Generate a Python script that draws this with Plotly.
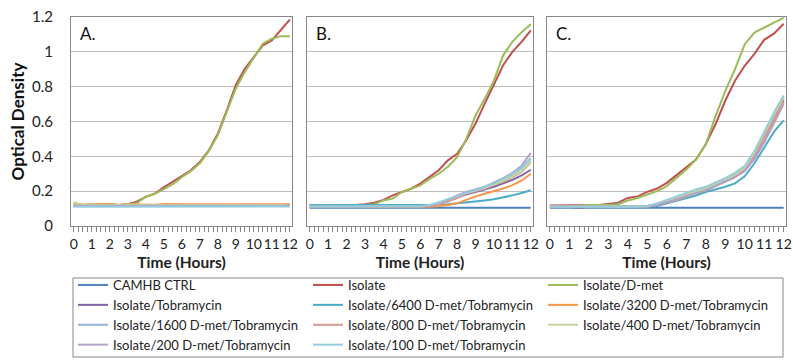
import plotly.graph_objects as go
from plotly.subplots import make_subplots

TIME = [0, 0.5, 1, 1.5, 2, 2.5, 3, 3.5, 4, 4.5, 5, 5.5, 6, 6.5, 7, 7.5, 8, 8.5, 9, 9.5, 10, 10.5, 11, 11.5, 12]

SERIES = ["CAMHB CTRL", "Isolate", "Isolate/D-met", "Isolate/Tobramycin",
          "Isolate/6400 D-met/Tobramycin", "Isolate/3200 D-met/Tobramycin",
          "Isolate/1600 D-met/Tobramycin", "Isolate/800 D-met/Tobramycin",
          "Isolate/400 D-met/Tobramycin", "Isolate/200 D-met/Tobramycin",
          "Isolate/100 D-met/Tobramycin"]
COLORS = ["#4F81BD", "#C0504D", "#9BBB59", "#8064A2", "#4BACC6", "#F79646",
          "#95B3D7", "#D99694", "#C3D69B", "#B3A2C7", "#93CDDD"]
PANEL_LABELS = ["A.", "B.", "C."]
Y_TICKS = [0, 0.2, 0.4, 0.6, 0.8, 1, 1.2]
X_TICKS = [0, 1, 2, 3, 4, 5, 6, 7, 8, 9, 10, 11, 12]

# Panel A
A_CTRL = [0.115, 0.115, 0.115, 0.115, 0.115, 0.115, 0.115, 0.115, 0.115, 0.115, 0.115, 0.115, 0.115, 0.115, 0.115, 0.115, 0.115, 0.115, 0.115, 0.115, 0.115, 0.115, 0.115, 0.115, 0.118]
A_ISO = [0.12, 0.12, 0.12, 0.12, 0.125, 0.12, 0.125, 0.14, 0.167, 0.186, 0.222, 0.253, 0.287, 0.32, 0.367, 0.434, 0.53, 0.664, 0.81, 0.903, 0.97, 1.037, 1.066, 1.123, 1.185]
A_DMET = [0.135, 0.12, 0.125, 0.125, 0.125, 0.12, 0.125, 0.13, 0.168, 0.185, 0.212, 0.24, 0.28, 0.315, 0.36, 0.43, 0.52, 0.655, 0.79, 0.884, 0.965, 1.047, 1.075, 1.09, 1.09]
A_TOB = [0.118, 0.118, 0.118, 0.118, 0.118, 0.118, 0.118, 0.118, 0.118, 0.118, 0.118, 0.118, 0.118, 0.118, 0.118, 0.118, 0.118, 0.118, 0.118, 0.118, 0.118, 0.118, 0.118, 0.118, 0.12]
A_6400 = [0.12, 0.12, 0.12, 0.12, 0.12, 0.12, 0.12, 0.12, 0.12, 0.12, 0.12, 0.12, 0.12, 0.12, 0.12, 0.12, 0.12, 0.12, 0.12, 0.12, 0.12, 0.12, 0.12, 0.12, 0.12]
A_3200 = [0.122, 0.122, 0.125, 0.125, 0.127, 0.12, 0.125, 0.125, 0.125, 0.122, 0.127, 0.125, 0.125, 0.125, 0.125, 0.125, 0.125, 0.125, 0.125, 0.125, 0.125, 0.125, 0.125, 0.125, 0.125]
A_1600 = [0.115, 0.115, 0.115, 0.115, 0.115, 0.115, 0.115, 0.115, 0.115, 0.115, 0.115, 0.115, 0.115, 0.115, 0.115, 0.115, 0.115, 0.115, 0.115, 0.115, 0.115, 0.115, 0.115, 0.115, 0.115]
A_800 = [0.118, 0.118, 0.118, 0.118, 0.118, 0.118, 0.118, 0.118, 0.118, 0.118, 0.118, 0.118, 0.118, 0.118, 0.118, 0.118, 0.118, 0.118, 0.118, 0.118, 0.118, 0.118, 0.118, 0.118, 0.118]
A_400 = [0.13, 0.12, 0.12, 0.12, 0.12, 0.12, 0.12, 0.12, 0.12, 0.12, 0.12, 0.12, 0.12, 0.12, 0.12, 0.12, 0.12, 0.12, 0.12, 0.12, 0.12, 0.12, 0.12, 0.12, 0.115]
A_200 = [0.116, 0.116, 0.116, 0.116, 0.116, 0.116, 0.116, 0.116, 0.116, 0.116, 0.116, 0.116, 0.116, 0.116, 0.116, 0.116, 0.116, 0.116, 0.116, 0.116, 0.116, 0.116, 0.116, 0.116, 0.116]
A_100 = [0.11, 0.11, 0.11, 0.11, 0.11, 0.11, 0.11, 0.11, 0.11, 0.11, 0.11, 0.11, 0.11, 0.11, 0.11, 0.11, 0.11, 0.11, 0.11, 0.11, 0.11, 0.11, 0.11, 0.11, 0.112]

# Panel B
B_CTRL = [0.105, 0.105, 0.105, 0.105, 0.105, 0.105, 0.105, 0.105, 0.105, 0.105, 0.105, 0.105, 0.105, 0.105, 0.105, 0.105, 0.105, 0.105, 0.105, 0.105, 0.105, 0.105, 0.105, 0.105, 0.105]
B_ISO = [0.12, 0.12, 0.12, 0.12, 0.12, 0.12, 0.125, 0.134, 0.15, 0.176, 0.195, 0.214, 0.243, 0.28, 0.32, 0.377, 0.415, 0.492, 0.588, 0.703, 0.81, 0.923, 1.0, 1.057, 1.123]
B_DMET = [0.12, 0.12, 0.12, 0.12, 0.12, 0.12, 0.12, 0.125, 0.147, 0.157, 0.195, 0.214, 0.233, 0.27, 0.3, 0.34, 0.395, 0.5, 0.635, 0.73, 0.836, 0.98, 1.057, 1.113, 1.158]
B_TOB = [0.11, 0.11, 0.11, 0.11, 0.11, 0.11, 0.11, 0.11, 0.11, 0.11, 0.11, 0.11, 0.11, 0.115, 0.125, 0.145, 0.165, 0.18, 0.195, 0.21, 0.225, 0.245, 0.265, 0.29, 0.323]
B_6400 = [0.12, 0.12, 0.12, 0.12, 0.12, 0.12, 0.12, 0.12, 0.12, 0.12, 0.12, 0.12, 0.12, 0.12, 0.122, 0.125, 0.13, 0.135, 0.138, 0.147, 0.153, 0.163, 0.176, 0.19, 0.205]
B_3200 = [0.11, 0.11, 0.11, 0.11, 0.11, 0.11, 0.11, 0.11, 0.11, 0.11, 0.11, 0.11, 0.11, 0.11, 0.115, 0.12, 0.13, 0.15, 0.17, 0.185, 0.2, 0.215, 0.235, 0.26, 0.3]
B_1600 = [0.11, 0.11, 0.11, 0.11, 0.11, 0.11, 0.11, 0.11, 0.11, 0.11, 0.11, 0.11, 0.112, 0.12, 0.135, 0.15, 0.17, 0.19, 0.205, 0.22, 0.24, 0.265, 0.295, 0.33, 0.39]
B_800 = [0.11, 0.11, 0.11, 0.11, 0.11, 0.11, 0.11, 0.11, 0.11, 0.11, 0.11, 0.11, 0.11, 0.115, 0.125, 0.14, 0.16, 0.185, 0.2, 0.215, 0.235, 0.255, 0.28, 0.31, 0.365]
B_400 = [0.11, 0.11, 0.11, 0.11, 0.11, 0.11, 0.11, 0.11, 0.11, 0.11, 0.11, 0.11, 0.112, 0.118, 0.13, 0.15, 0.17, 0.19, 0.205, 0.22, 0.24, 0.26, 0.285, 0.315, 0.37]
B_200 = [0.11, 0.11, 0.11, 0.11, 0.11, 0.11, 0.11, 0.11, 0.11, 0.11, 0.11, 0.11, 0.112, 0.118, 0.13, 0.15, 0.175, 0.195, 0.21, 0.225, 0.25, 0.275, 0.305, 0.345, 0.42]
B_100 = [0.112, 0.112, 0.112, 0.112, 0.112, 0.112, 0.112, 0.112, 0.112, 0.112, 0.112, 0.112, 0.115, 0.12, 0.135, 0.155, 0.17, 0.19, 0.205, 0.225, 0.245, 0.27, 0.3, 0.335, 0.385]

# Panel C
C_CTRL = [0.105, 0.105, 0.105, 0.105, 0.105, 0.105, 0.105, 0.105, 0.105, 0.105, 0.105, 0.105, 0.105, 0.105, 0.105, 0.105, 0.105, 0.105, 0.105, 0.105, 0.105, 0.105, 0.105, 0.105, 0.105]
C_ISO = [0.117, 0.117, 0.117, 0.117, 0.12, 0.12, 0.127, 0.134, 0.161, 0.17, 0.196, 0.215, 0.248, 0.292, 0.334, 0.382, 0.469, 0.584, 0.719, 0.834, 0.92, 0.988, 1.069, 1.104, 1.161]
C_DMET = [0.115, 0.115, 0.115, 0.115, 0.12, 0.12, 0.12, 0.125, 0.146, 0.161, 0.18, 0.2, 0.229, 0.277, 0.324, 0.382, 0.469, 0.63, 0.775, 0.9, 1.044, 1.11, 1.14, 1.168, 1.195]
C_TOB = [0.11, 0.11, 0.11, 0.105, 0.11, 0.11, 0.11, 0.11, 0.11, 0.11, 0.115, 0.125, 0.14, 0.155, 0.175, 0.19, 0.205, 0.23, 0.255, 0.28, 0.32, 0.39, 0.49, 0.6, 0.72]
C_6400 = [0.11, 0.11, 0.11, 0.11, 0.11, 0.11, 0.11, 0.11, 0.11, 0.11, 0.11, 0.115, 0.13, 0.145, 0.16, 0.175, 0.195, 0.21, 0.225, 0.245, 0.285, 0.36, 0.45, 0.54, 0.607]
C_3200 = [0.11, 0.11, 0.11, 0.11, 0.11, 0.11, 0.11, 0.11, 0.11, 0.11, 0.112, 0.12, 0.135, 0.15, 0.17, 0.19, 0.205, 0.235, 0.26, 0.29, 0.33, 0.41, 0.51, 0.62, 0.73]
C_1600 = [0.11, 0.11, 0.11, 0.11, 0.11, 0.11, 0.11, 0.11, 0.11, 0.11, 0.113, 0.125, 0.14, 0.16, 0.18, 0.195, 0.215, 0.24, 0.265, 0.295, 0.335, 0.42, 0.53, 0.64, 0.74]
C_800 = [0.11, 0.11, 0.11, 0.11, 0.11, 0.11, 0.11, 0.11, 0.11, 0.11, 0.112, 0.122, 0.138, 0.155, 0.175, 0.19, 0.21, 0.235, 0.26, 0.285, 0.325, 0.4, 0.5, 0.61, 0.71]
C_400 = [0.11, 0.11, 0.11, 0.11, 0.11, 0.11, 0.11, 0.11, 0.11, 0.11, 0.113, 0.125, 0.142, 0.16, 0.18, 0.2, 0.215, 0.24, 0.265, 0.295, 0.335, 0.42, 0.53, 0.64, 0.74]
C_200 = [0.11, 0.11, 0.11, 0.11, 0.11, 0.11, 0.11, 0.11, 0.11, 0.11, 0.112, 0.12, 0.135, 0.152, 0.172, 0.19, 0.205, 0.23, 0.255, 0.28, 0.315, 0.385, 0.48, 0.59, 0.7]
C_100 = [0.11, 0.11, 0.11, 0.11, 0.11, 0.11, 0.11, 0.11, 0.11, 0.11, 0.115, 0.13, 0.15, 0.17, 0.19, 0.21, 0.225, 0.25, 0.275, 0.305, 0.345, 0.43, 0.54, 0.65, 0.75]

PANELS = [
    [A_CTRL, A_ISO, A_DMET, A_TOB, A_6400, A_3200, A_1600, A_800, A_400, A_200, A_100],
    [B_CTRL, B_ISO, B_DMET, B_TOB, B_6400, B_3200, B_1600, B_800, B_400, B_200, B_100],
    [C_CTRL, C_ISO, C_DMET, C_TOB, C_6400, C_3200, C_1600, C_800, C_400, C_200, C_100],
]

W, H = 793, 362
FONT = "Lato, 'Open Sans', sans-serif"

fig = make_subplots(rows=1, cols=3)

for p, panel in enumerate(PANELS):
    for i, name in enumerate(SERIES):
        fig.add_trace(go.Scatter(
            x=TIME, y=panel[i], mode="lines", name=name,
            line=dict(color=COLORS[i], width=2),
            legendgroup=name, showlegend=(p == 0),
        ), row=1, col=p + 1)

domains_px = [(71, 292), (307, 533), (547, 786)]
top_px, bot_px = 17, 226
ydom = [1 - bot_px / H, 1 - top_px / H]

for p in range(3):
    xa = "xaxis" if p == 0 else f"xaxis{p+1}"
    ya = "yaxis" if p == 0 else f"yaxis{p+1}"
    d0, d1 = domains_px[p]
    fig.layout[xa].update(
        domain=[d0 / W, d1 / W], range=[-0.15, 12.12],
        tickvals=X_TICKS, tickangle=0, ticks="outside", ticklen=5, tickcolor="#868686",
        showline=True, linecolor="#868686", linewidth=1, mirror=True,
        showgrid=False, zeroline=False,
        minor=dict(dtick=0.25, ticks="outside", ticklen=5, tickcolor="#868686", showgrid=False),
        tickfont=dict(family=FONT, size=14, color="#222"),
        title=dict(text="<b>Time (Hours)</b>", font=dict(family=FONT, size=15.5, color="#222"), standoff=6),
        automargin=False,
    )
    fig.layout[ya].update(
        domain=ydom, range=[0, 1.2], tickvals=Y_TICKS,
        showgrid=True, gridcolor="#BDBDBD", gridwidth=1,
        showline=True, linecolor="#868686", linewidth=1, mirror=True,
        zeroline=False, ticks="",
        showticklabels=(p == 0),
        tickfont=dict(family=FONT, size=15, color="#222"),
        ticklabelstandoff=14,
        automargin=False,
    )
    fig.add_annotation(
        text=PANEL_LABELS[p], xref=f"x{'' if p == 0 else p+1} domain", yref="paper",
        x=0.03, y=1 - 34 / H, xanchor="left", yanchor="middle", showarrow=False,
        font=dict(family=FONT, size=17, color="#111"),
    )

fig.layout.yaxis.title = dict(text="<b>Optical Density</b>", font=dict(family=FONT, size=17, color="#111"), standoff=3)

# legend frame
fig.add_shape(type="rect", xref="paper", yref="paper",
              x0=73 / W, x1=783 / W, y0=1 - 357 / H, y1=1 - 278 / H,
              line=dict(color="#868686", width=1), fillcolor="rgba(0,0,0,0)")

fig.update_layout(
    width=W, height=H, margin=dict(l=0, r=0, t=0, b=0, autoexpand=False),
    paper_bgcolor="white", plot_bgcolor="white",
    legend=dict(
        orientation="h", x=73 / W, xanchor="left", y=1 - 270 / H, yanchor="top",
        entrywidth=190, entrywidthmode="pixels",
        bgcolor="rgba(0,0,0,0)", borderwidth=0,
        font=dict(family=FONT, size=13, color="#222"),
        itemwidth=30, tracegroupgap=0,
    ),
)

fig.write_html("out.html", config={"displayModeBar": False},
               post_script="document.body.style.margin='0';document.body.style.overflow='hidden';")
